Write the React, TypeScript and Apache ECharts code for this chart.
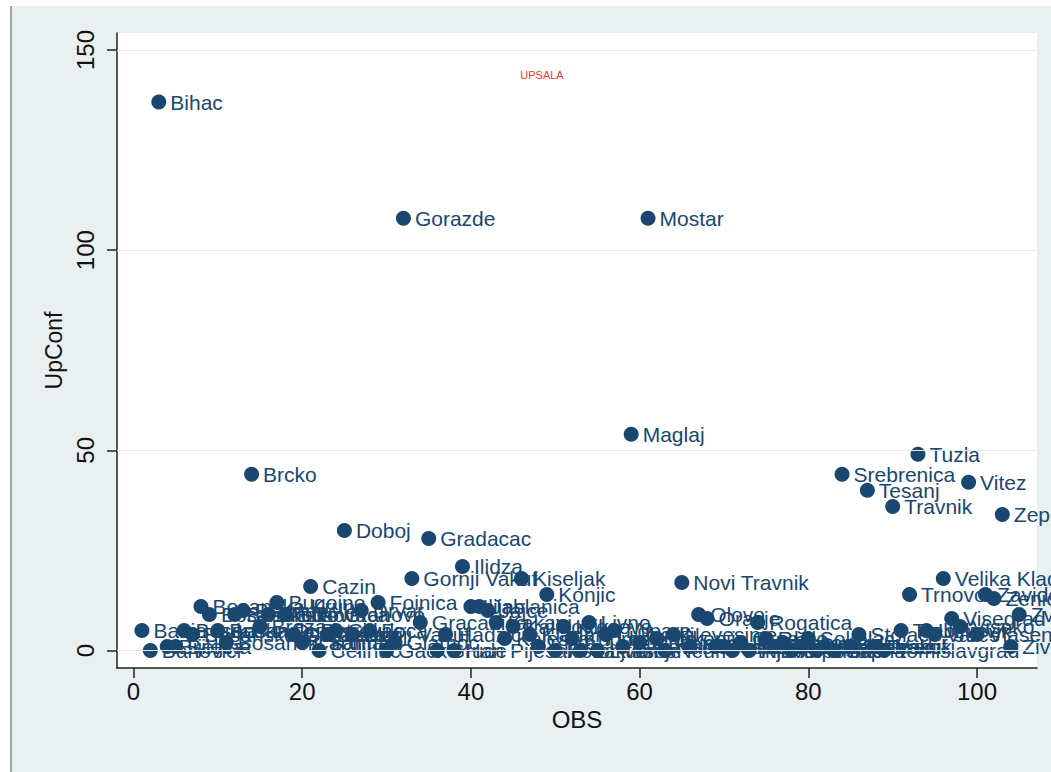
import React, { useEffect, useRef } from "react";
import * as echarts from "echarts";

const obs = [
  1, 2, 3, 4, 5, 6, 7, 8, 9, 10, 11, 12, 13, 14, 15, 16, 17, 18, 19, 20,
  21, 22, 23, 24, 25, 26, 27, 28, 29, 30, 31, 32, 33, 34, 35, 36, 37, 38, 39, 40,
  41, 42, 43, 44, 45, 46, 47, 48, 49, 50, 51, 52, 53, 54, 55, 56, 57, 58, 59, 60,
  61, 62, 63, 64, 65, 66, 67, 68, 69, 70, 71, 72, 73, 74, 75, 76, 77, 78, 79, 80,
  81, 82, 83, 84, 85, 86, 87, 88, 89, 90, 91, 92, 93, 94, 95, 96, 97, 98, 99, 100,
  101, 102, 103, 104, 105,
];

const names = [
  "Banja Luka", "Banovici", "Bihac", "Bijeljina", "Bileca", "Bosanska Dubica", "Bosanska Gradiska",
  "Bosanska Krupa", "Bosanski Novi", "Bosanski Petrovac", "Bosanski Samac", "Bosansko Grahovo",
  "Bratunac", "Brcko", "Breza", "Brod", "Bugojno", "Busovaca", "Cajnice", "Capljina",
  "Cazin", "Celinac", "Centar", "Citluk", "Doboj", "Donji Vakuf", "Drvar", "Foca", "Foinica", "Gacko",
  "Glamoc", "Gorazde", "Gornji Vakuf", "Gracanica", "Gradacac", "Grude", "Hadzici", "Han Pijesak",
  "Ilidza", "Ilijas", "Jablanica", "Jajce", "Kakanj", "Kalesija", "Kalinovik", "Kiseljak", "Kladanj",
  "Kljuc", "Konjic", "Kotor Varos", "Kresevo", "Kupres", "Laktasi", "Livno", "Ljubinje", "Ljubuski",
  "Lopare", "Lukavac", "Maglaj", "Modrica", "Mostar", "Mrkonjic Grad", "Neum", "Nevesinje",
  "Novi Travnik", "Novo Sarajevo", "Olovo", "Orasje", "Posusje", "Prijedor", "Prnjavor", "Prozor",
  "Ribnik", "Rogatica", "Rudo", "Sanski Most", "Sekovici", "Sipovo", "Skender Vakuf", "Sokolac",
  "Srbac", "Stari Grad", "Sapna", "Srebrenica", "Srebrenik", "Stolac", "Tesanj", "Teslic",
  "Tomislavgrad", "Travnik", "Trebinje", "Trnovo", "Tuzla", "Ugljevik", "Vares", "Velika Kladusa",
  "Visegrad", "Visoko", "Vitez", "Vlasenica", "Zavidovici", "Zenica", "Zepce", "Zivinice", "Zvornik",
];

const upConf = [
  5, 0, 137, 1, 1, 5, 4, 11, 9, 5, 2, 9, 10, 44, 6, 9, 12, 9, 4, 2,
  16, 0, 4, 5, 30, 4, 10, 5, 12, 0, 2, 108, 18, 7, 28, 0, 4, 0, 21, 11,
  11, 10, 7, 3, 6, 18, 4, 1, 14, 0, 6, 3, 0, 7, 0, 4, 5, 1, 54, 2,
  108, 3, 0, 4, 17, 1, 9, 8, 1, 1, 0, 2, 0, 7, 3, 1, 2, 0, 1, 3,
  0, 1, 0, 44, 1, 4, 40, 1, 0, 36, 5, 14, 49, 5, 4, 18, 8, 6, 42, 4,
  14, 13, 34, 1, 9,
];

const xTicks = [0, 20, 40, 60, 80, 100];
const yTicks = [0, 50, 100, 150];

const FONT = "'Liberation Sans', Arial, Helvetica, sans-serif";
const NAVY = "#1a476f";

export default function App() {
  const ref = useRef<HTMLDivElement>(null);
  useEffect(() => {
    const chart = echarts.init(ref.current!, null, { renderer: "svg" });
    const data = obs.map((o, i) => ({ name: names[i], value: [o, upConf[i]] }));
    chart.setOption({
      animation: false,
      backgroundColor: "#e9f0f1",
      textStyle: { fontFamily: FONT },
      graphic: [
        { type: "rect", shape: { x: 0, y: 0, width: 1051, height: 6 }, style: { fill: "#ffffff" }, silent: true },
        { type: "rect", shape: { x: 0, y: 0, width: 10, height: 772 }, style: { fill: "#ffffff" }, silent: true },
        { type: "line", shape: { x1: 11, y1: 6, x2: 11, y2: 772 }, style: { stroke: "#9aa3a5", lineWidth: 2 }, silent: true },
        {
          type: "text",
          x: 542,
          y: 75,
          style: {
            text: "UPSALA",
            fill: "#e5392f",
            fontSize: 11,
            fontFamily: FONT,
            align: "center",
            verticalAlign: "middle",
          },
        },
      ],
      grid: {
        left: 117,
        top: 33,
        width: 920,
        height: 635,
        show: true,
        backgroundColor: "#ffffff",
        borderWidth: 0,
      },
      xAxis: {
        type: "value",
        min: -1.956,
        max: 107.11,
        axisLine: { show: true, onZero: false, lineStyle: { color: "#222222", width: 1.5 } },
        axisTick: { show: true, length: 10, customValues: xTicks, lineStyle: { color: "#222222", width: 1.5 } },
        axisLabel: { customValues: xTicks, fontSize: 24, color: "#111111", margin: 11, fontFamily: FONT },
        splitLine: { show: false },
        name: "OBS",
        nameLocation: "middle",
        nameGap: 37,
        nameTextStyle: { fontSize: 24, color: "#111111", fontFamily: FONT },
      },
      yAxis: {
        type: "value",
        min: -4.37,
        max: 154.25,
        axisLine: { show: true, onZero: false, lineStyle: { color: "#222222", width: 1.5 } },
        axisTick: { show: true, length: 10, customValues: yTicks, lineStyle: { color: "#222222", width: 1.5 } },
        axisLabel: { customValues: yTicks, rotate: 90, fontSize: 24, color: "#111111", margin: 20, fontFamily: FONT },
        splitLine: { show: false },
        name: "UpConf",
        nameLocation: "middle",
        nameGap: 45,
        nameRotate: 90,
        nameTextStyle: { fontSize: 23, color: "#111111", fontFamily: FONT },
      },
      series: [
        {
          type: "scatter",
          data,
          symbol: "circle",
          symbolSize: 15,
          clip: false,
          itemStyle: { color: NAVY, opacity: 1 },
          label: {
            show: true,
            position: "right",
            distance: 4,
            formatter: "{b}",
            color: NAVY,
            fontSize: 21,
            fontFamily: FONT,
          },
          markLine: {
            silent: true,
            symbol: "none",
            animation: false,
            label: { show: false },
            lineStyle: { color: "#e2ebed", width: 1, type: "solid" },
            data: yTicks.map((v) => ({ yAxis: v })),
          },
        },
      ],
    });
    return () => chart.dispose();
  }, []);
  return (
    <div
      ref={ref}
      style={{ position: "fixed", left: 0, top: 0, width: 1051, height: 772 }}
    />
  );
}
